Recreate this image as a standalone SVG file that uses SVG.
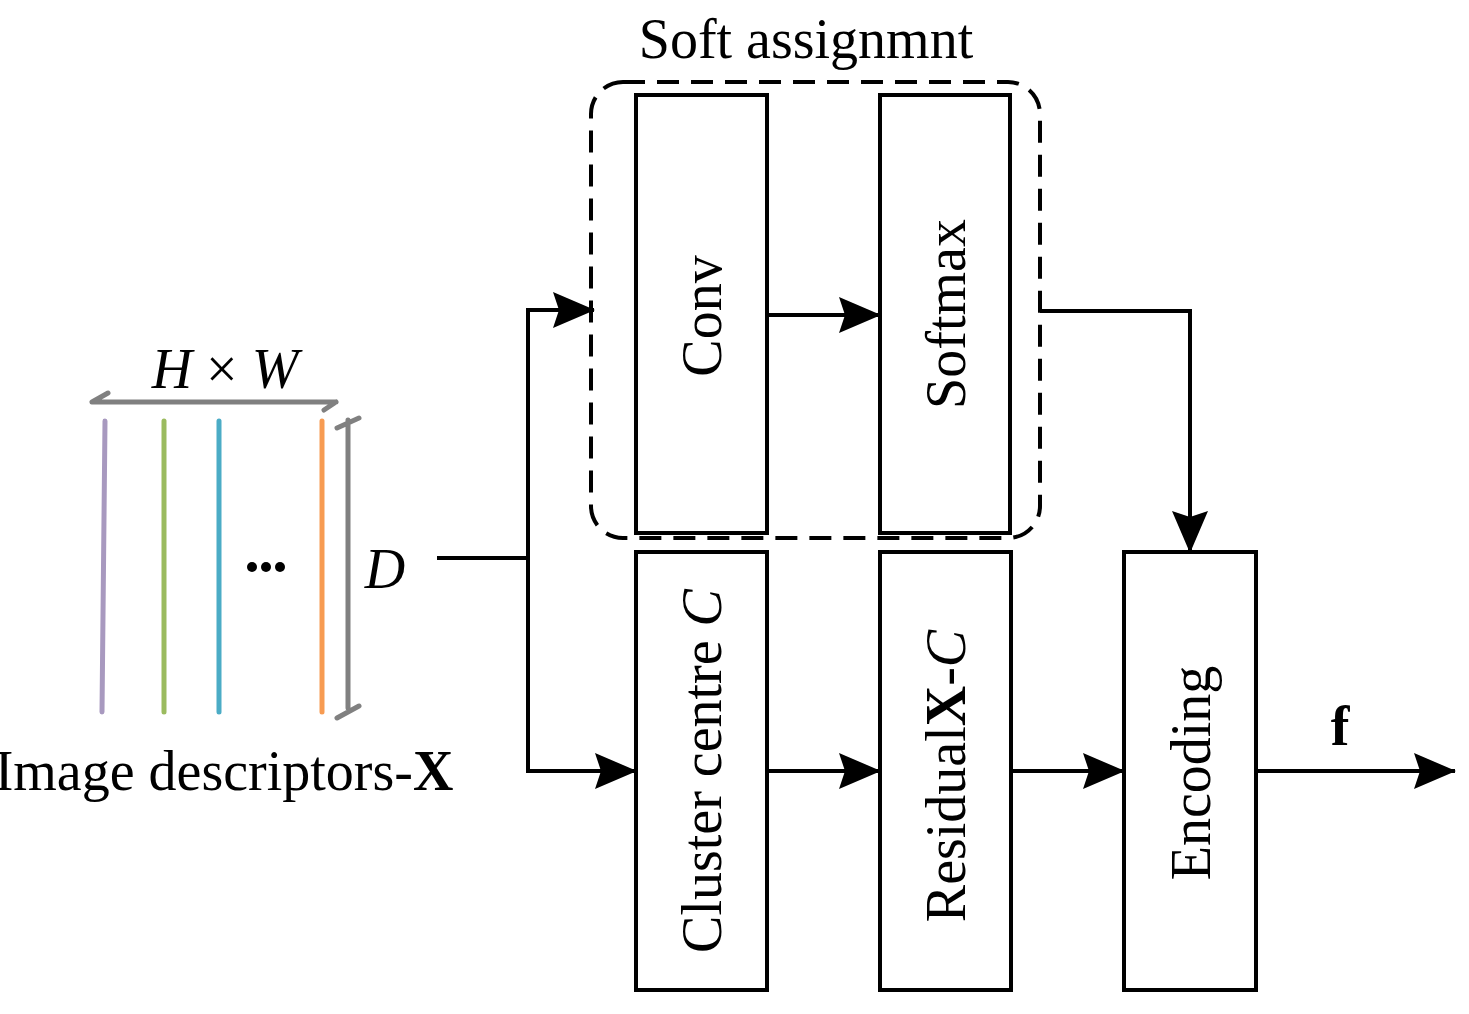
<svg xmlns="http://www.w3.org/2000/svg" width="1469" height="1014" viewBox="0 0 1469 1014">
<style>
.t{font-family:"Liberation Serif",serif;font-size:56px;fill:#000}
.box{fill:#fff;stroke:#000;stroke-width:4}
.c{fill:none;stroke:#000;stroke-width:4}
.g{fill:none;stroke:#808080;stroke-width:5;stroke-linecap:round}
</style>
<defs>
<marker id="ah" viewBox="0 0 42 36" refX="41" refY="18" markerWidth="42" markerHeight="36" orient="auto" markerUnits="userSpaceOnUse"><path d="M0,0 L42,18 L0,36 L6,18 Z" fill="#000"/></marker>
</defs>
<rect width="1469" height="1014" fill="#fff"/>
<g id="descriptors">
<path class="g" d="M92,402 H336 M92,402 L108,393 M336,402 L324,410"/>
<text class="t" x="225" y="388" text-anchor="middle" font-style="italic">H<tspan font-style="normal"> × </tspan>W</text>
<line x1="105" y1="421" x2="102" y2="712" stroke="#a899bf" stroke-width="5" stroke-linecap="round"/>
<line x1="164" y1="421" x2="164" y2="712" stroke="#9bbb5f" stroke-width="5" stroke-linecap="round"/>
<line x1="219" y1="421" x2="219" y2="712" stroke="#4bacc6" stroke-width="5" stroke-linecap="round"/>
<line x1="322" y1="421" x2="322" y2="712" stroke="#f79b52" stroke-width="5" stroke-linecap="round"/>
<circle cx="252" cy="567" r="5"/><circle cx="266" cy="567" r="5"/><circle cx="280" cy="567" r="5"/>
<path class="g" d="M348,420 V708 M337,428 L359,418 M337,718 L359,706"/>
<text class="t" x="385" y="588" text-anchor="middle" font-style="italic">D</text>
<text class="t" x="224" y="790" text-anchor="middle" font-size="48">Image descriptors-<tspan font-weight="bold">X</tspan></text>
</g>
<g id="softassign">
<rect x="591" y="82" width="449" height="456" rx="32" fill="none" stroke="#000" stroke-width="4" stroke-dasharray="22,12"/>
<text class="t" x="806" y="58" text-anchor="middle">Soft assignmnt</text>
</g>
<g id="conv"><rect class="box" x="636" y="95" width="131" height="438"/>
<text class="t" transform="translate(721,316) rotate(-90)" text-anchor="middle">Conv</text></g>
<g id="softmax"><rect class="box" x="880" y="95" width="130" height="438"/>
<text class="t" transform="translate(965,314) rotate(-90)" text-anchor="middle">Softmax</text></g>
<g id="cluster"><rect class="box" x="636" y="552" width="131" height="438"/>
<text class="t" transform="translate(721,771) rotate(-90)" text-anchor="middle">Cluster centre <tspan font-style="italic">C</tspan></text></g>
<g id="residual"><rect class="box" x="880" y="552" width="131" height="438"/>
<text class="t" transform="translate(965,776) rotate(-90)" text-anchor="middle">Residual<tspan font-weight="bold">X</tspan>-<tspan font-style="italic">C</tspan></text></g>
<g id="encoding"><rect class="box" x="1124" y="552" width="132" height="438"/>
<text class="t" transform="translate(1210,773) rotate(-90)" text-anchor="middle">Encoding</text></g>
<g id="connectors">
<path class="c" d="M437,558 H528"/>
<path class="c" d="M528,558 V310 H594" marker-end="url(#ah)"/>
<path class="c" d="M528,558 V771 H636" marker-end="url(#ah)"/>
<path class="c" d="M767,315 H880" marker-end="url(#ah)"/>
<path class="c" d="M1040,311 H1190 V552" marker-end="url(#ah)"/>
<path class="c" d="M767,771 H880" marker-end="url(#ah)"/>
<path class="c" d="M1011,771 H1124" marker-end="url(#ah)"/>
<path class="c" d="M1256,771 H1455" marker-end="url(#ah)"/>
<text class="t" x="1340" y="745" text-anchor="middle" font-weight="bold">f</text>
</g>
</svg>
